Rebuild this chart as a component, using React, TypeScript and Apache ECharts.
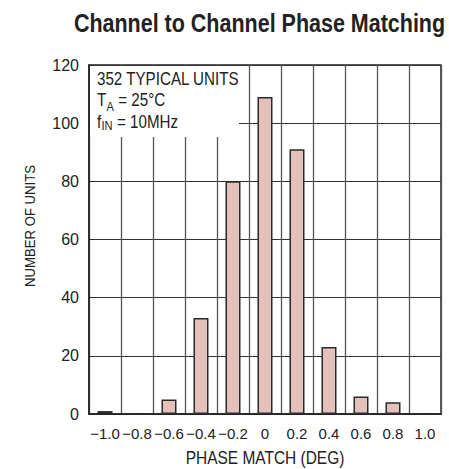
import React, { useEffect, useRef } from "react";
import * as echarts from "echarts";

const categories = ["−1.0", "−0.8", "−0.6", "−0.4", "−0.2", "0", "0.2", "0.4", "0.6", "0.8", "1.0"];
const units = [1, 0, 5, 33, 80, 109, 91, 23, 6, 4, 0];
const yTicks = { min: 0, max: 120, interval: 20 };
const titleText = "Channel to Channel Phase Matching";
const xName = "PHASE MATCH (DEG)";
const yName = "NUMBER OF UNITS";
const noteLines = ["352 TYPICAL UNITS"];

const FONT = "'Liberation Sans', Arial, sans-serif";

export default function App() {
  const ref = useRef<HTMLDivElement>(null);
  useEffect(() => {
    if (!ref.current) return;
    const chart = echarts.init(ref.current, null, { renderer: "svg" });
    const txt = (x: number, y: number, text: string, size: number, sx: number, extra: any = {}) => ({
      type: "text",
      z: 51,
      x,
      y,
      scaleX: sx,
      style: {
        text,
        align: "left",
        verticalAlign: "middle",
        font: `${size}px ${FONT}`,
        fill: "#222",
        ...extra,
      },
    });
    chart.setOption({
      animation: false,
      backgroundColor: "#ffffff",
      grid: {
        left: 89,
        right: 8,
        top: 65,
        bottom: 55,
        show: true,
        borderColor: "#222",
        borderWidth: 1.5,
        backgroundColor: "transparent",
      },
      xAxis: {
        type: "category",
        data: categories,
        boundaryGap: true,
        axisLine: { show: true, lineStyle: { color: "#222", width: 1.5 } },
        axisTick: { show: false },
        axisLabel: { color: "#222", fontSize: 15, fontFamily: FONT, margin: 12, interval: 0 },
        splitLine: { show: true, interval: 0, lineStyle: { color: "#555", width: 1.3 } },
      },
      yAxis: {
        type: "value",
        min: yTicks.min,
        max: yTicks.max,
        interval: yTicks.interval,
        axisLine: { show: true, lineStyle: { color: "#222", width: 1.5 } },
        axisTick: { show: true, inside: true, length: 4, lineStyle: { color: "#222" } },
        axisLabel: { color: "#222", fontSize: 16, fontFamily: FONT, margin: 10 },
        splitLine: { show: true, lineStyle: { color: "#333", width: 1.2 } },
      },
      series: [
        {
          type: "bar",
          data: units,
          barWidth: 15,
          itemStyle: { color: "#e4c0ba", borderColor: "#2a2a2a", borderWidth: 1.5 },
        },
      ],
      graphic: [
        {
          type: "text",
          x: 259.5,
          y: 23,
          scaleX: 0.86,
          style: {
            text: titleText,
            align: "center",
            verticalAlign: "middle",
            font: `bold 25px ${FONT}`,
            fill: "#222",
          },
        },
        {
          type: "text",
          x: 265,
          y: 458,
          scaleX: 0.86,
          style: {
            text: xName,
            align: "center",
            verticalAlign: "middle",
            font: `18px ${FONT}`,
            fill: "#222",
          },
        },
        {
          type: "text",
          x: 30,
          y: 226,
          rotation: Math.PI / 2,
          scaleX: 0.85,
          style: {
            text: yName,
            align: "center",
            verticalAlign: "middle",
            font: `15.5px ${FONT}`,
            fill: "#222",
          },
        },
        {
          type: "rect",
          z: 50,
          shape: { x: 90, y: 66, width: 149, height: 71 },
          style: { fill: "#ffffff" },
        },
        txt(97, 79, noteLines[0], 18.5, 0.82),
        txt(97, 100, "T", 18.5, 0.82),
        txt(106.5, 106.5, "A", 13.5, 0.82),
        txt(114, 100, " = 25°C", 18.5, 0.82),
        txt(97, 122, "f", 18.5, 0.82),
        txt(101.5, 125.5, "IN", 13.5, 0.82),
        txt(112.8, 122, " = 10MHz", 18.5, 0.82),
      ],
    });
    return () => chart.dispose();
  }, []);
  return (
    <div
      ref={ref}
      style={{ position: "fixed", left: 0, top: 0, width: 449, height: 469, background: "#fff" }}
    />
  );
}
